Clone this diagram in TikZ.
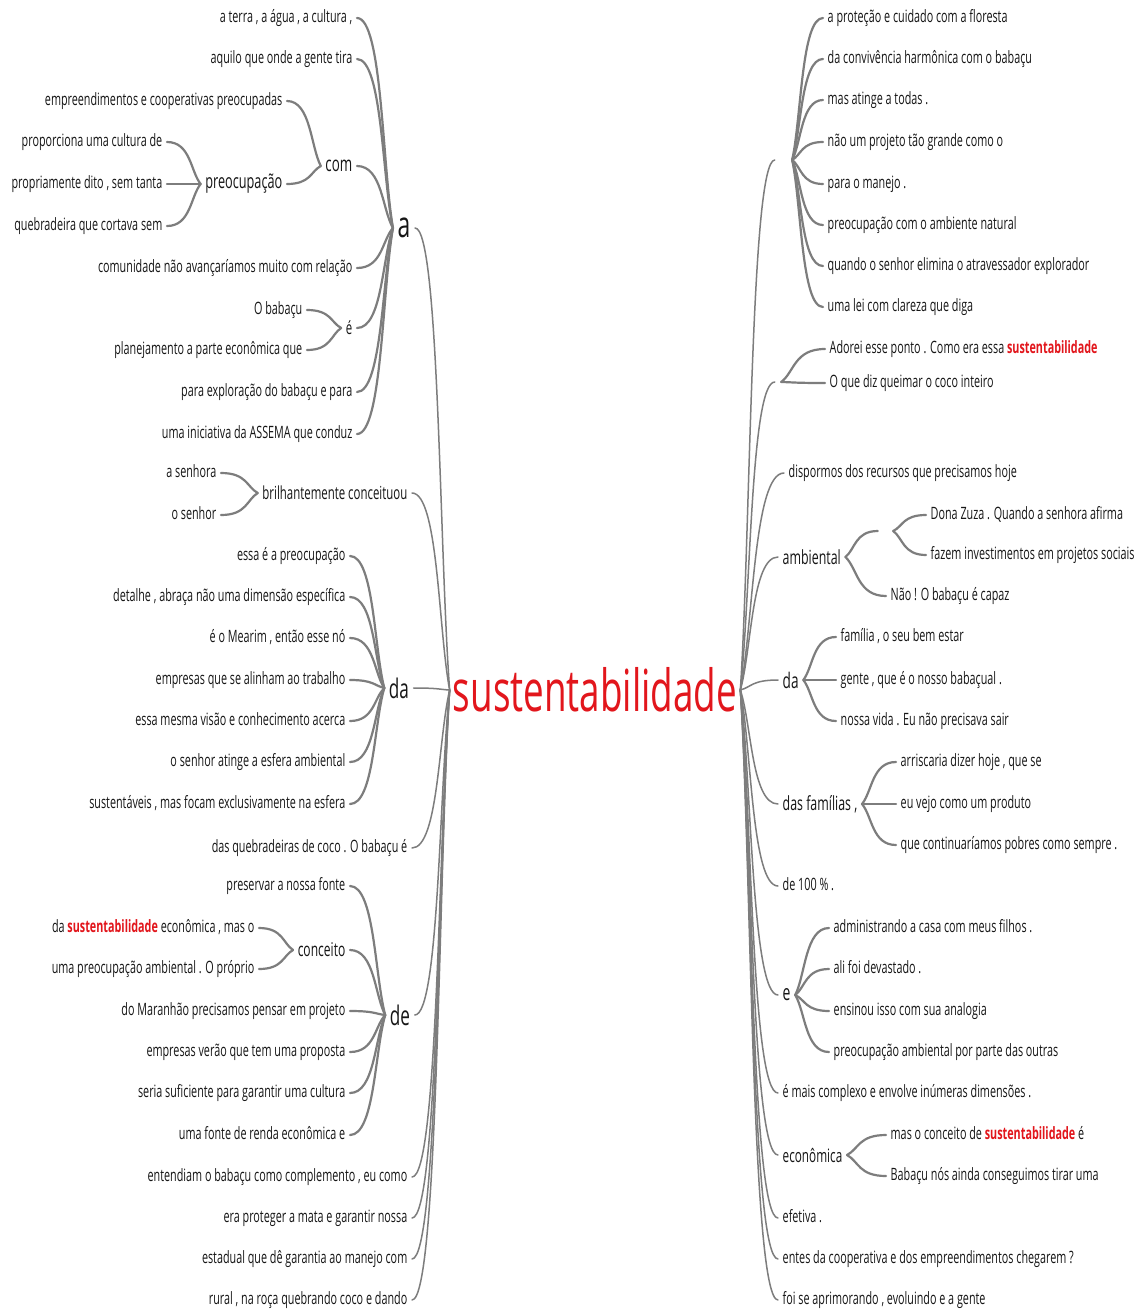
\documentclass[tikz,border=0pt]{standalone}
\usepackage{fontspec}
\setmainfont{Open Sans}[FakeStretch=0.635]
\usetikzlibrary{calc}
\definecolor{txt}{RGB}{22,22,22}
\definecolor{lnc}{RGB}{125,125,125}
\definecolor{hl}{RGB}{226,22,28}
\newcommand\fs[1]{\fontsize{#1}{#1}\selectfont}
\newcommand\hlw{\textcolor{hl}{\textbf{sustentabilidade}}}
\newcommand\lnk[3][conn]{\draw[#1] let \p1=(#2), \p2=(#3) in (\p1) .. controls ({\x1+0.7*(\x2-\x1)},\y1) and ({\x2+0.3*(\x1-\x2)},{\y2+0.3*(\y1-\y2)}) .. (\p2);}
\tikzset{
  lf/.style={font=\fs{17}, text=txt, inner xsep=4.5pt, inner ysep=2pt, text height=12.5pt, text depth=3.5pt},
  big/.style={text=txt, inner xsep=4.5pt, inner ysep=2pt},
  L/.style={anchor=east},
  R/.style={anchor=west},
  hub/.style={inner sep=0pt, minimum height=6pt},
  conn/.style={draw=lnc, line width=2.2pt, line cap=round},
  rconn/.style={draw=lnc, line width=1.5pt, line cap=round}
}
\begin{document}
\begin{tikzpicture}[x=1pt,y=-1pt]
\fill[white] (0,0) rectangle (1138,1312);
\useasboundingbox (0,0) rectangle (1138,1312);

% root
\node[font=\fs{58}, text=hl, inner sep=3pt] (root) at (595,690) {sustentabilidade};

% ---------------- LEFT ----------------
\node[big,font=\fs{36}] (nA) at (404,228) {a};
\node[lf,L] (a1) at (357,18) {a terra , a água , a cultura ,};
\node[lf,L] (a2) at (357,59) {aquilo que onde a gente tira};
\node[big,L,font=\fs{21}] (nCom) at (357,166) {com};
\node[lf,L] (c1) at (287,101) {empreendimentos e cooperativas preocupadas};
\node[big,L,font=\fs{20}] (nPre) at (287,184) {preocupação};
\node[lf,L] (p1) at (167,142) {proporciona uma cultura de};
\node[lf,L] (p2) at (167,184) {propriamente dito , sem tanta};
\node[lf,L] (p3) at (167,226) {quebradeira que cortava sem};
\node[lf,L] (a3) at (357,268) {comunidade não avançaríamos muito com relação};
\node[big,L,font=\fs{18}] (nE) at (357,328) {é};
\node[lf,L] (e1) at (307,310) {O babaçu};
\node[lf,L] (e2) at (307,350) {planejamento a parte econômica que};
\node[lf,L] (a4) at (357,392) {para exploração do babaçu e para};
\node[lf,L] (a5) at (357,434) {uma iniciativa da ASSEMA que conduz};

\node[big,L,font=\fs{18}] (nBril) at (412,493) {brilhantemente conceituou};
\node[lf,L] (b1) at (221,473) {a senhora};
\node[lf,L] (b2) at (221,515) {o senhor};

\node[big,font=\fs{27}] (nDa) at (399,688) {da};
\node[lf,L] (d1) at (350,556) {essa é a preocupação};
\node[lf,L] (d2) at (350,597) {detalhe , abraça não uma dimensão específica};
\node[lf,L] (d3) at (350,638) {é o Mearim , então esse nó};
\node[lf,L] (d4) at (350,680) {empresas que se alinham ao trabalho};
\node[lf,L] (d5) at (350,721) {essa mesma visão e conhecimento acerca};
\node[lf,L] (d6) at (350,762) {o senhor atinge a esfera ambiental};
\node[lf,L] (d7) at (350,804) {sustentáveis , mas focam exclusivamente na esfera};

\node[lf,L] (l5) at (412,848) {das quebradeiras de coco . O babaçu é};

\node[big,font=\fs{27}] (nDe) at (400,1015) {de};
\node[lf,L] (f1) at (350,886) {preservar a nossa fonte};
\node[big,L,font=\fs{19}] (nConc) at (350,950) {conceito};
\node[lf,L] (g1) at (259,928) {da \hlw{} econômica , mas o};
\node[lf,L] (g2) at (259,969) {uma preocupação ambiental . O próprio};
\node[lf,L] (f3) at (350,1011) {do Maranhão precisamos pensar em projeto};
\node[lf,L] (f4) at (350,1052) {empresas verão que tem uma proposta};
\node[lf,L] (f5) at (350,1093) {seria suficiente para garantir uma cultura};
\node[lf,L] (f6) at (350,1135) {uma fonte de renda econômica e};

\node[lf,L] (l6) at (412,1177) {entendiam o babaçu como complemento , eu como};
\node[lf,L] (l7) at (412,1218) {era proteger a mata e garantir nossa};
\node[lf,L] (l8) at (412,1259) {estadual que dê garantia ao manejo com};
\node[lf,L] (l9) at (412,1300) {rural , na roça quebrando coco e dando};

% left connectors
\foreach \k in {nA,nBril,nDa,l5,nDe,l6,l7,l8,l9} {\lnk[rconn]{\k.east}{root.west}}
\foreach \k in {a1,a2,nCom,a3,nE,a4,a5} {\lnk{\k.east}{nA.west}}
\foreach \k in {c1,nPre} {\lnk{\k.east}{nCom.west}}
\foreach \k in {p1,p2,p3} {\lnk{\k.east}{nPre.west}}
\foreach \k in {e1,e2} {\lnk{\k.east}{nE.west}}
\foreach \k in {b1,b2} {\lnk{\k.east}{nBril.west}}
\foreach \k in {d1,d2,d3,d4,d5,d6,d7} {\lnk{\k.east}{nDa.west}}
\foreach \k in {f1,nConc,f3,f4,f5,f6} {\lnk{\k.east}{nDe.west}}
\foreach \k in {g1,g2} {\lnk{\k.east}{nConc.west}}

% ---------------- RIGHT ----------------
\node[hub,minimum width=17pt] (hA) at (783.5,160) {};
\node[lf,R] (r1) at (823,18) {a proteção e cuidado com a floresta};
\node[lf,R] (r2) at (823,59) {da convivência harmônica com o babaçu};
\node[lf,R] (r3) at (823,100) {mas atinge a todas .};
\node[lf,R] (r4) at (823,142) {não um projeto tão grande como o};
\node[lf,R] (r5) at (823,184) {para o manejo .};
\node[lf,R] (r6) at (823,225) {preocupação com o ambiente natural};
\node[lf,R] (r7) at (823,266) {quando o senhor elimina o atravessador explorador};
\node[lf,R] (r8) at (823,307) {uma lei com clareza que diga};

\node[hub,minimum width=6pt] (hB) at (778,382) {};
\node[lf,R] (s1) at (825,349) {Adorei esse ponto . Como era essa \hlw};
\node[lf,R] (s2) at (825,383) {O que diz queimar o coco inteiro};

\node[lf,R] (t1) at (784,473) {dispormos dos recursos que precisamos hoje};

\node[big,R,font=\fs{19.5}] (nAmb) at (778,557) {ambiental};
\node[hub,minimum width=15pt] (hC) at (885.5,531) {};
\node[lf,R] (u1) at (926,515) {Dona Zuza . Quando a senhora afirma};
\node[lf,R] (u2) at (926,555) {fazem investimentos em projetos sociais};
\node[lf,R] (u3) at (886,596) {Não ! O babaçu é capaz};

\node[big,R,font=\fs{21.5}] (nDa2) at (778,680) {da};
\node[lf,R] (v1) at (836,637) {família , o seu bem estar};
\node[lf,R] (v2) at (836,680) {gente , que é o nosso babaçual .};
\node[lf,R] (v3) at (836,721) {nossa vida . Eu não precisava sair};

\node[big,R,font=\fs{19.5}] (nFam) at (778,804) {das famílias ,};
\node[lf,R] (w1) at (896,762) {arriscaria dizer hoje , que se};
\node[lf,R] (w2) at (896,804) {eu vejo como um produto};
\node[lf,R] (w3) at (896,845) {que continuaríamos pobres como sempre .};

\node[lf,R] (t2) at (778,886) {de 100 \% .};

\node[big,R,font=\fs{22}] (nE2) at (778,995) {e};
\node[lf,R] (x1) at (829,928) {administrando a casa com meus filhos .};
\node[lf,R] (x2) at (829,969) {ali foi devastado .};
\node[lf,R] (x3) at (829,1011) {ensinou isso com sua analogia};
\node[lf,R] (x4) at (829,1052) {preocupação ambiental por parte das outras};

\node[lf,R] (t3) at (778,1093) {é mais complexo e envolve inúmeras dimensões .};

\node[big,R,font=\fs{18.5}] (nEco) at (778,1155) {econômica};
\node[lf,R] (y1) at (886,1135) {mas o conceito de \hlw{} é};
\node[lf,R] (y2) at (886,1176) {Babaçu nós ainda conseguimos tirar uma};

\node[lf,R] (t4) at (778,1218) {efetiva .};
\node[lf,R] (t5) at (778,1259) {entes da cooperativa e dos empreendimentos chegarem ?};
\node[lf,R] (t6) at (778,1300) {foi se aprimorando , evoluindo e a gente};

% right connectors
\foreach \k in {hA,hB,t1,nAmb,nDa2,nFam,t2,nE2,t3,nEco,t4,t5,t6} {\lnk[rconn]{\k.west}{root.east}}
\foreach \k in {r1,r2,r3,r4,r5,r6,r7,r8} {\lnk{\k.west}{hA.east}}
\foreach \k in {s1,s2} {\lnk{\k.west}{hB.east}}
\foreach \k in {hC,u3} {\lnk{\k.west}{nAmb.east}}
\foreach \k in {u1,u2} {\lnk{\k.west}{hC.east}}
\foreach \k in {v1,v2,v3} {\lnk{\k.west}{nDa2.east}}
\foreach \k in {w1,w2,w3} {\lnk{\k.west}{nFam.east}}
\foreach \k in {x1,x2,x3,x4} {\lnk{\k.west}{nE2.east}}
\foreach \k in {y1,y2} {\lnk{\k.west}{nEco.east}}
\end{tikzpicture}
\end{document}
